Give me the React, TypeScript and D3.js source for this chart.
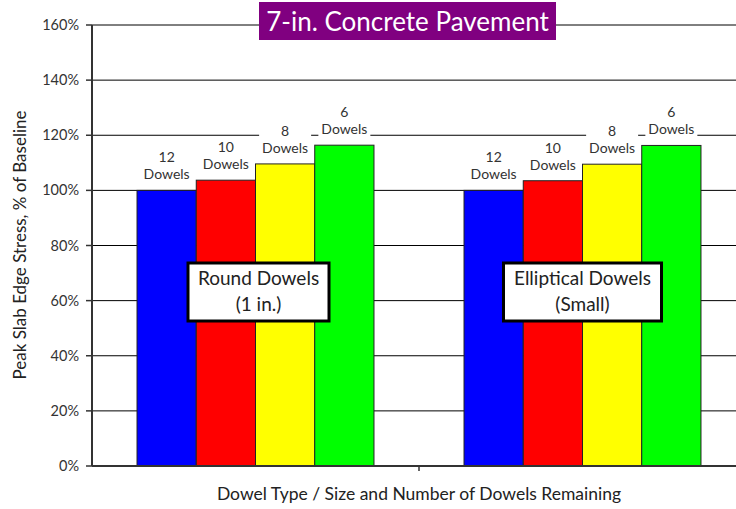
import * as d3 from "d3";

const categories = ["Round", "Elliptical"];
const dowelCounts = ["12", "10", "8", "6"];
const roundValues = [100, 103.7, 109.6, 116.4];
const ellipticalValues = [100, 103.5, 109.5, 116.3];
const barColors = ["#0000ff", "#ff0000", "#ffff00", "#00ff00"];
const yTicks = [0, 20, 40, 60, 80, 100, 120, 140, 160];
const boxLabels = [
  ["Round Dowels", "(1 in.)"],
  ["Elliptical Dowels", "(Small)"],
];
const title = "7-in. Concrete Pavement";

const W = 736;
const H = 509;
const margin = { top: 25, left: 92, bottom: 43 };
const font = "Lato, 'Open Sans', sans-serif";

export default function App() {
  const plotBottom = H - margin.bottom;
  const y = d3.scaleLinear().domain([0, 160]).range([plotBottom, margin.top]);
  const x0 = d3.scaleBand<string>().domain(categories).range([margin.left, 746]);
  const x1 = d3
    .scaleBand<string>()
    .domain(dowelCounts)
    .range([0, x0.bandwidth()])
    .paddingOuter(0.76);
  const series = [roundValues, ellipticalValues];
  const boxWidths = [141, 158];

  return (
    <svg
      width={W}
      height={H}
      style={{ position: "absolute", left: 0, top: 0, fontFamily: font }}
    >
      <rect width={W} height={H} fill="#fff" />
      {/* gridlines */}
      {yTicks.map((t) => (
        <line key={t} x1={margin.left} x2={W} y1={y(t)} y2={y(t)} stroke="#000" strokeWidth={1} />
      ))}
      {/* bars */}
      {categories.map((c, ci) => (
        <g key={c} transform={`translate(${x0(c)},0)`}>
          {dowelCounts.map((d, di) => {
            const v = series[ci][di];
            return (
              <rect
                key={d}
                x={x1(d)}
                y={y(v)}
                width={x1.bandwidth()}
                height={plotBottom - y(v)}
                fill={barColors[di]}
                stroke="#222"
                strokeWidth={1}
              />
            );
          })}
          {dowelCounts.map((d, di) => {
            const v = series[ci][di];
            const cx = (x1(d) ?? 0) + x1.bandwidth() / 2;
            const top = y(v);
            return (
              <g key={"l" + d}>
                <rect x={cx - 26} y={top - 42} width={52} height={36} fill="#fff" />
                <text x={cx} y={top - 28} textAnchor="middle" fontSize={14} fill="#333">
                  {d}
                </text>
                <text x={cx} y={top - 11} textAnchor="middle" fontSize={14} fill="#333">
                  Dowels
                </text>
              </g>
            );
          })}
        </g>
      ))}
      {/* text boxes */}
      {categories.map((c, ci) => {
        const cx = (x0(c) ?? 0) + x0.bandwidth() / 2 + (ci === 0 ? 3 : 0);
        const w = boxWidths[ci];
        return (
          <g key={"b" + c}>
            <rect
              x={cx - w / 2}
              y={263}
              width={w}
              height={58}
              fill="#fff"
              stroke="#000"
              strokeWidth={3}
            />
            <text x={cx} y={285} textAnchor="middle" fontSize={19} fill="#222">
              {boxLabels[ci][0]}
            </text>
            <text x={cx} y={311} textAnchor="middle" fontSize={19} fill="#222">
              {boxLabels[ci][1]}
            </text>
          </g>
        );
      })}
      {/* axes */}
      <line x1={margin.left} x2={margin.left} y1={margin.top} y2={plotBottom} stroke="#333" strokeWidth={2} />
      <line x1={margin.left} x2={W} y1={plotBottom} y2={plotBottom} stroke="#333" strokeWidth={2} />
      {yTicks.map((t) => (
        <g key={"t" + t}>
          <line x1={margin.left - 6} x2={margin.left} y1={y(t)} y2={y(t)} stroke="#333" strokeWidth={1.5} />
          <text x={margin.left - 13} y={y(t) + 5} textAnchor="end" fontSize={14.5} fill="#333">
            {t}%
          </text>
        </g>
      ))}
      {categories.slice(1).map((c) => (
        <line key={"xt" + c} x1={x0(c)} x2={x0(c)} y1={plotBottom} y2={plotBottom + 5} stroke="#333" strokeWidth={1.5} />
      ))}
      <text x={419} y={500} textAnchor="middle" fontSize={17.5} fill="#222">
        Dowel Type / Size and Number of Dowels Remaining
      </text>
      <text
        transform={`translate(26,245) rotate(-90)`}
        textAnchor="middle"
        fontSize={17}
        fill="#222"
      >
        Peak Slab Edge Stress, % of Baseline
      </text>
      {/* title */}
      <rect x={259} y={2} width={297} height={38} fill="#800080" />
      <text x={407.5} y={31} textAnchor="middle" fontSize={26} fill="#fff">
        {title}
      </text>
    </svg>
  );
}
